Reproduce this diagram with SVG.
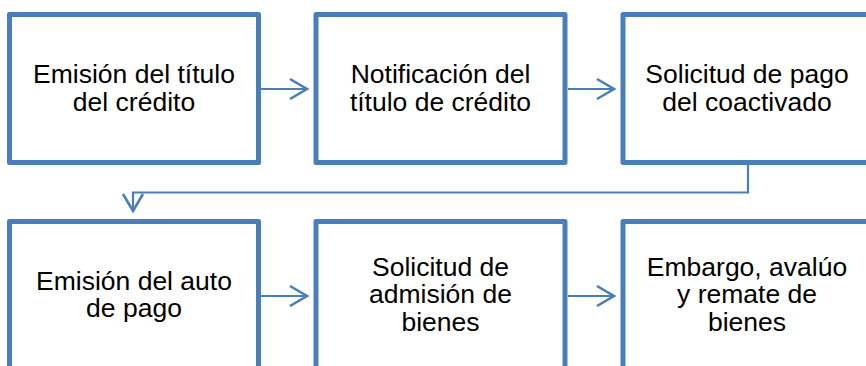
<svg xmlns="http://www.w3.org/2000/svg" width="866" height="366" viewBox="0 0 866 366">
<style>
.box{fill:#ffffff;stroke:#4A7EBB;stroke-width:5;stroke-linejoin:round}
.lbl{font-family:"Liberation Sans",Arial,sans-serif;font-size:26.5px;fill:#000000;text-anchor:middle}
.con{fill:none;stroke:#4A7EBB;stroke-width:2.2}
</style>
<defs>
<marker id="arr" markerUnits="userSpaceOnUse" markerWidth="30" markerHeight="30" viewBox="-20 -15 30 30" refX="0" refY="0" orient="auto">
<path d="M-17,-10 L0,0 L-17,10" fill="none" stroke="#4A7EBB" stroke-width="2.6" stroke-linejoin="miter"/>
</marker>
</defs>
<rect width="866" height="366" fill="#ffffff"/>
<g id="connectors">
<line class="con" x1="261" y1="89" x2="307" y2="89" marker-end="url(#arr)"/>
<line class="con" x1="568" y1="89" x2="614" y2="89" marker-end="url(#arr)"/>
<polyline class="con" points="748,165 748,192.5 133,192.5 133,211" marker-end="url(#arr)"/>
<line class="con" x1="261" y1="296" x2="307" y2="296" marker-end="url(#arr)"/>
<line class="con" x1="568" y1="296" x2="614" y2="296" marker-end="url(#arr)"/>
</g>
<g id="node1">
<rect class="box" x="9.5" y="14.5" width="249" height="148"/>
<text class="lbl" x="134" y="83">Emisión del título</text>
<text class="lbl" x="134" y="110.5">del crédito</text>
</g>
<g id="node2">
<rect class="box" x="316" y="14.5" width="249" height="148"/>
<text class="lbl" x="440.5" y="83">Notificación del</text>
<text class="lbl" x="440.5" y="110.5">título de crédito</text>
</g>
<g id="node3">
<rect class="box" x="623" y="14.5" width="249" height="148"/>
<text class="lbl" x="747" y="83">Solicitud de pago</text>
<text class="lbl" x="747" y="110.5">del coactivado</text>
</g>
<g id="node4">
<rect class="box" x="9.5" y="221.5" width="249" height="148"/>
<text class="lbl" x="134" y="289.5">Emisión del auto</text>
<text class="lbl" x="134" y="317">de pago</text>
</g>
<g id="node5">
<rect class="box" x="316" y="221.5" width="249" height="148"/>
<text class="lbl" x="440.5" y="275.5">Solicitud de</text>
<text class="lbl" x="440.5" y="303">admisión de</text>
<text class="lbl" x="440.5" y="330.5">bienes</text>
</g>
<g id="node6">
<rect class="box" x="623" y="221.5" width="249" height="148"/>
<text class="lbl" x="747" y="275.5">Embargo, avalúo</text>
<text class="lbl" x="747" y="303">y remate de</text>
<text class="lbl" x="747" y="330.5">bienes</text>
</g>
</svg>
